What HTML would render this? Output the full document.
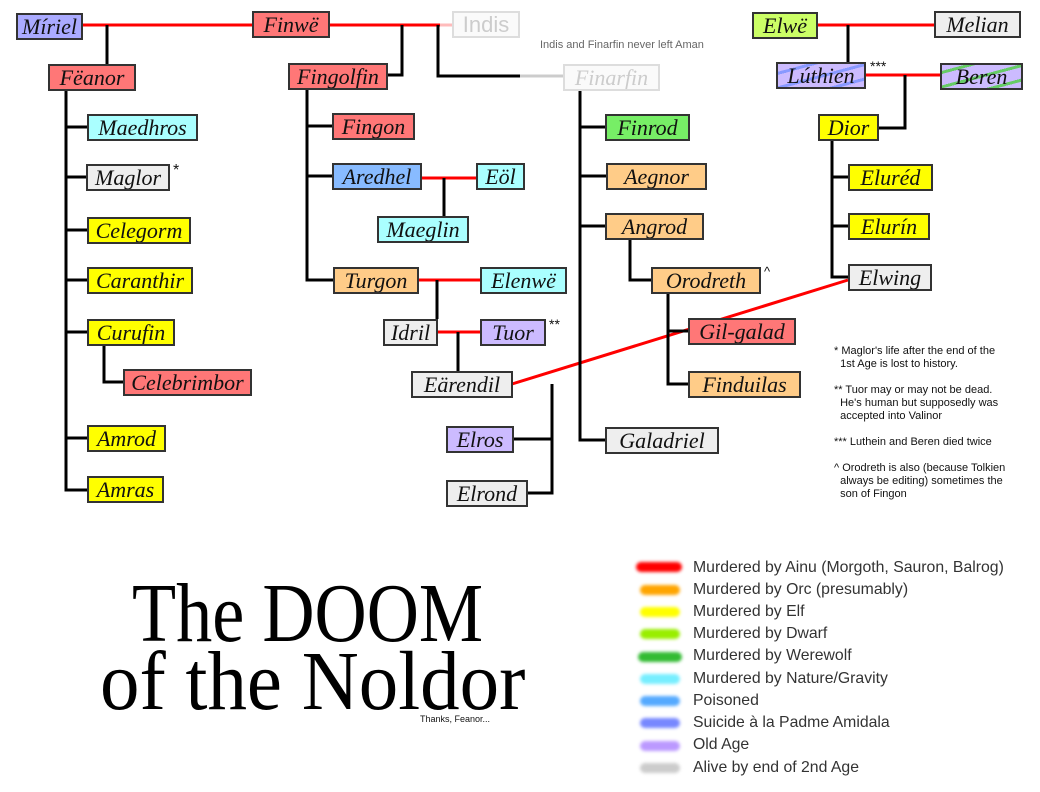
<!DOCTYPE html>
<html><head><meta charset="utf-8"><style>
body{margin:0;width:1040px;height:792px;background:#fff;position:relative;overflow:hidden;font-family:"Liberation Serif",serif}
.b{position:absolute;height:27px;border:2px solid #333;font-size:22px;line-height:23px;box-sizing:border-box;text-align:center;white-space:nowrap;color:#111;font-style:italic;overflow:hidden}
.r{background:#ff7777}.y{background:#ffff00}.c{background:#aaffff}.g{background:#eeeeee}.o{background:#ffcc88}.p{background:#ccbbff}
.f{border-color:#ddd;color:#ccc;background:#fafafa}
svg{position:absolute;left:0;top:0}
.n{position:absolute;font-family:"Liberation Sans",sans-serif;font-size:11px;line-height:13px;color:#111}
.lg{position:absolute;left:693px;font-family:"Liberation Sans",sans-serif;font-size:15.8px;color:#333}
.sw{position:absolute;left:640px;width:40px;height:10px;border-radius:6px;filter:blur(1.5px)}
.t{position:absolute;font-family:"Liberation Serif",serif;font-size:84px;color:#000;line-height:1;transform-origin:left top;white-space:nowrap}
</style></head><body>
<svg width="1040" height="792">
<g stroke="#f00" stroke-width="3" fill="none">
<line x1="82" y1="25" x2="252" y2="25"/><line x1="329" y1="25" x2="440" y2="25"/>
<line x1="818" y1="25" x2="934" y2="25"/><line x1="866" y1="75" x2="940" y2="75"/>
<line x1="421" y1="178" x2="476" y2="178"/><line x1="418" y1="280" x2="480" y2="280"/>
<line x1="437" y1="332" x2="480" y2="332"/><line x1="512" y1="384" x2="848" y2="280"/>
</g>
<line x1="440" y1="25" x2="452" y2="25" stroke="#fbb" stroke-width="3"/>
<g stroke="#000" stroke-width="3" fill="none">
<polyline points="107,25 107,64"/><polyline points="66,90 66,490 87,490"/>
<line x1="66" y1="127" x2="87" y2="127"/><line x1="66" y1="177" x2="86" y2="177"/>
<line x1="66" y1="230" x2="87" y2="230"/><line x1="66" y1="280" x2="87" y2="280"/>
<line x1="66" y1="332" x2="87" y2="332"/><line x1="66" y1="438" x2="87" y2="438"/>
<polyline points="104,345 104,382 123,382"/>
<polyline points="402,25 402,75 388,75"/><polyline points="438,25 438,76 520,76"/>
<polyline points="307,89 307,280 333,280"/><line x1="307" y1="126" x2="332" y2="126"/><line x1="307" y1="176" x2="332" y2="176"/>
<line x1="444" y1="178" x2="444" y2="216"/><line x1="437" y1="280" x2="437" y2="319"/>
<line x1="458" y1="332" x2="458" y2="371"/>
<polyline points="513,439 552,439"/><polyline points="552,384 552,493 527,493"/>
<polyline points="580,90 580,440 605,440"/><line x1="580" y1="127" x2="605" y2="127"/><line x1="580" y1="176" x2="606" y2="176"/><line x1="580" y1="226" x2="605" y2="226"/>
<polyline points="630,239 630,280 651,280"/><polyline points="668,293 668,384 688,384"/><line x1="668" y1="331" x2="688" y2="331"/>
<line x1="848" y1="25" x2="848" y2="62"/><polyline points="905,75 905,128 879,128"/>
<polyline points="832,140 832,277 848,277"/><line x1="832" y1="177" x2="848" y2="177"/><line x1="832" y1="226" x2="848" y2="226"/>
</g>
<line x1="520" y1="76" x2="563" y2="76" stroke="#ccc" stroke-width="3"/>
</svg>
<div class="b" style="left:16px;top:13px;width:67px;background:#aaaaff">Míriel</div>
<div class="b r" style="left:252px;top:11px;width:78px">Finwë</div>
<div class="b f" style="left:452px;top:11px;width:68px;font-style:normal;font-family:'Liberation Sans',sans-serif">Indis</div>
<div class="n" style="left:540px;top:39px;color:#666">Indis and Finarfin never left Aman</div>
<div class="b r" style="left:48px;top:64px;width:88px">Fëanor</div>
<div class="b r" style="left:288px;top:63px;width:100px">Fingolfin</div>
<div class="b f" style="left:563px;top:64px;width:97px">Finarfin</div>
<div class="b" style="left:752px;top:12px;width:66px;background:#ccff66">Elwë</div>
<div class="b g" style="left:934px;top:11px;width:87px">Melian</div>
<div class="b" style="left:776px;top:62px;width:90px;background:repeating-linear-gradient(-15deg,#ccbbff 0 6px,#8899ff 6px 9px,#ccbbff 9px 14px)">Lúthien</div>
<div class="n" style="left:870px;top:60px;font-size:14px">***</div>
<div class="b" style="left:940px;top:63px;width:83px;background:repeating-linear-gradient(-15deg,#ccbbff 0 6px,#66cc66 6px 9px,#ccbbff 9px 14px)">Beren</div>
<div class="b y" style="left:818px;top:114px;width:61px">Dior</div>
<div class="b c" style="left:87px;top:114px;width:111px">Maedhros</div>
<div class="b g" style="left:86px;top:164px;width:84px">Maglor</div>
<div class="n" style="left:173px;top:164px;font-size:16px">*</div>
<div class="b y" style="left:87px;top:217px;width:104px">Celegorm</div>
<div class="b y" style="left:87px;top:267px;width:106px">Caranthir</div>
<div class="b y" style="left:87px;top:319px;width:88px">Curufin</div>
<div class="b r" style="left:123px;top:369px;width:129px">Celebrimbor</div>
<div class="b y" style="left:87px;top:425px;width:79px">Amrod</div>
<div class="b y" style="left:87px;top:476px;width:77px">Amras</div>
<div class="b r" style="left:332px;top:113px;width:83px">Fingon</div>
<div class="b" style="left:332px;top:163px;width:90px;background:#88bbff">Aredhel</div>
<div class="b c" style="left:476px;top:163px;width:49px">Eöl</div>
<div class="b c" style="left:377px;top:216px;width:92px">Maeglin</div>
<div class="b o" style="left:333px;top:267px;width:86px">Turgon</div>
<div class="b c" style="left:480px;top:267px;width:87px">Elenwë</div>
<div class="b g" style="left:383px;top:319px;width:55px">Idril</div>
<div class="b p" style="left:480px;top:319px;width:66px">Tuor</div>
<div class="n" style="left:549px;top:318px;font-size:14px">**</div>
<div class="b g" style="left:411px;top:371px;width:102px">Eärendil</div>
<div class="b p" style="left:446px;top:426px;width:68px">Elros</div>
<div class="b g" style="left:446px;top:480px;width:82px">Elrond</div>
<div class="b" style="left:605px;top:114px;width:85px;background:#77ee66">Finrod</div>
<div class="b o" style="left:606px;top:163px;width:101px">Aegnor</div>
<div class="b o" style="left:605px;top:213px;width:99px">Angrod</div>
<div class="b o" style="left:651px;top:267px;width:110px">Orodreth</div>
<div class="n" style="left:764px;top:265px;font-size:13px">^</div>
<div class="b r" style="left:688px;top:318px;width:108px">Gil-galad</div>
<div class="b o" style="left:688px;top:371px;width:113px">Finduilas</div>
<div class="b g" style="left:605px;top:427px;width:114px">Galadriel</div>
<div class="b y" style="left:848px;top:164px;width:85px">Eluréd</div>
<div class="b y" style="left:848px;top:213px;width:82px">Elurín</div>
<div class="b g" style="left:848px;top:264px;width:84px">Elwing</div>
<div class="n" style="left:834px;top:345px">* Maglor's life after the end of the<br>&nbsp;&nbsp;1st Age is lost to history.<br><br>** Tuor may or may not be dead.<br>&nbsp;&nbsp;He's human but supposedly was<br>&nbsp;&nbsp;accepted into Valinor<br><br>*** Luthein and Beren died twice<br><br>^ Orodreth is also (because Tolkien<br>&nbsp;&nbsp;always be editing) sometimes the<br>&nbsp;&nbsp;son of Fingon</div>
<div class="t" style="left:132px;top:572px;transform:scaleX(0.86)">The DOOM</div>
<div class="t" style="left:100px;top:640px;transform:scaleX(0.94)">of the Noldor</div>
<div class="n" style="left:420px;top:713px;font-size:9px">Thanks, Feanor...</div>
<div class="sw" style="top:562px;background:#f00;width:46px;left:636px"></div><div class="lg" style="top:559px">Murdered by Ainu (Morgoth, Sauron, Balrog)</div>
<div class="sw" style="top:585px;background:#ffa500"></div><div class="lg" style="top:581px">Murdered by Orc (presumably)</div>
<div class="sw" style="top:607px;background:#ff0"></div><div class="lg" style="top:603px">Murdered by Elf</div>
<div class="sw" style="top:629px;background:#99ee00"></div><div class="lg" style="top:625px">Murdered by Dwarf</div>
<div class="sw" style="top:652px;background:#33bb33;width:44px;left:638px"></div><div class="lg" style="top:647px">Murdered by Werewolf</div>
<div class="sw" style="top:674px;background:#77eeff"></div><div class="lg" style="top:670px">Murdered by Nature/Gravity</div>
<div class="sw" style="top:696px;background:#55aaff"></div><div class="lg" style="top:692px">Poisoned</div>
<div class="sw" style="top:718px;background:#7788ff"></div><div class="lg" style="top:714px">Suicide à la Padme Amidala</div>
<div class="sw" style="top:741px;background:#bb99ff"></div><div class="lg" style="top:736px">Old Age</div>
<div class="sw" style="top:763px;background:#ccc"></div><div class="lg" style="top:759px">Alive by end of 2nd Age</div>
</body></html>
